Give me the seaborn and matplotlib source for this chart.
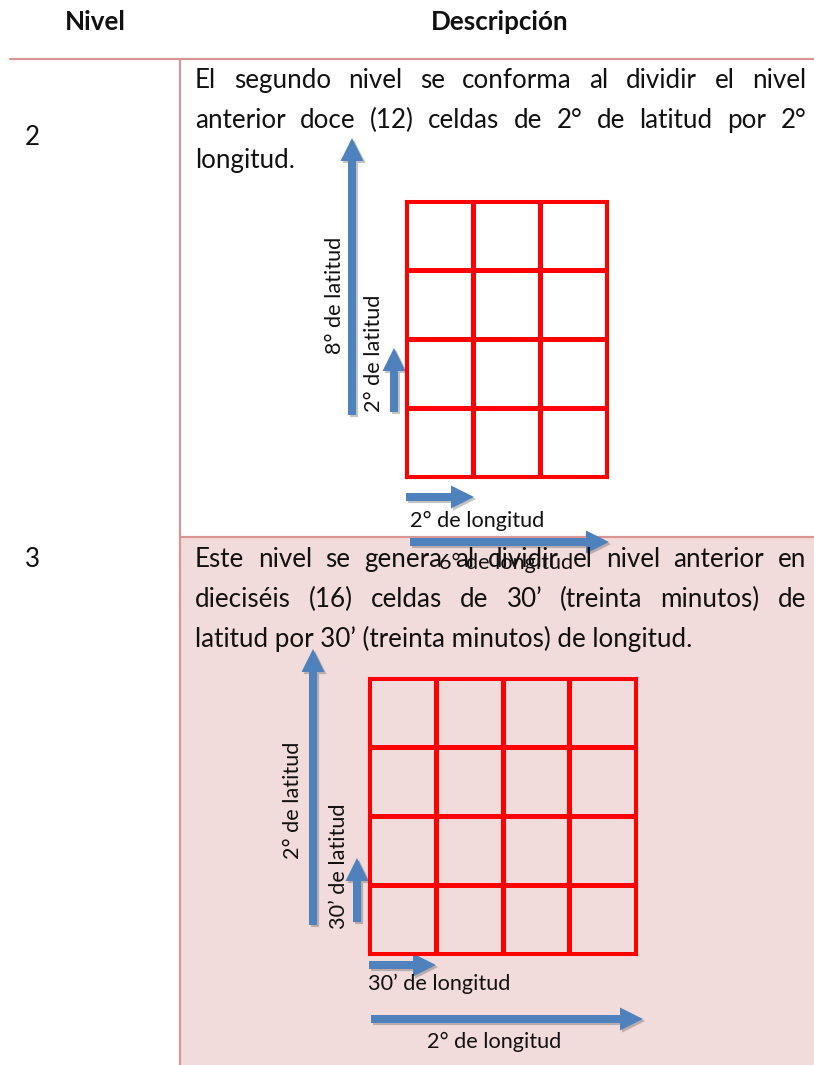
import numpy as np
import matplotlib
matplotlib.use("Agg")
import matplotlib.pyplot as plt
import matplotlib.patheffects as pe
from matplotlib.colors import ListedColormap
from matplotlib.patches import FancyArrow, Rectangle
import seaborn as sns

# ---------------- data ----------------
header_labels = ["Nivel", "Descripción"]
level_numbers = ["2", "3"]
level2_lines = [
    "El segundo nivel se conforma al dividir el nivel",
    "anterior doce (12) celdas de 2° de latitud por 2°",
    "longitud.",
]
level3_lines = [
    "Este nivel se genera al dividir el nivel anterior en",
    "dieciséis (16) celdas de 30’ (treinta minutos) de",
    "latitud por 30’ (treinta minutos) de longitud.",
]
level2_grid = [[0, 0, 0], [0, 0, 0], [0, 0, 0], [0, 0, 0]]   # 4 rows x 3 cols
level3_grid = [[0, 0, 0, 0], [0, 0, 0, 0], [0, 0, 0, 0], [0, 0, 0, 0]]  # 4 x 4
level2_labels = ["8° de latitud", "2° de latitud", "2° de longitud", "6° de longitud"]
level3_labels = ["2° de latitud", "30’ de latitud", "30’ de longitud", "2° de longitud"]

# ---------------- style ----------------
W, H = 814, 1065
sns.set_theme(style="white")
plt.rcParams["font.family"] = ["Lato", "DejaVu Sans"]
BODY = 18.7
LABEL = 15.6
LINE_C = "#d99594"
PINK = "#f2dbdb"
BLUE = "#4f81bd"
RED = "#ff0000"
TXT = "#111111"

fig = plt.figure(figsize=(W / 100, H / 100), dpi=100)
fig.patch.set_facecolor("white")
ax = fig.add_axes([0, 0, 1, 1])
ax.set_xlim(0, W)
ax.set_ylim(H, 0)
ax.axis("off")
renderer = fig.canvas.get_renderer()

# backgrounds and table lines
ax.add_patch(Rectangle((180, 537), W - 180, H - 537, facecolor=PINK, edgecolor="none", zorder=0))
ax.plot([10, W], [59, 59], color=LINE_C, lw=1.6, zorder=1)
ax.plot([180, 180], [59, H], color=LINE_C, lw=1.6, zorder=1)
ax.plot([180, W], [537, 537], color=LINE_C, lw=1.6, zorder=1)

# header
ax.text(95, 30, header_labels[0], fontsize=BODY, fontweight="bold", ha="center", va="baseline", color=TXT)
ax.text(500, 30, header_labels[1], fontsize=BODY, fontweight="bold", ha="center", va="baseline", color=TXT)
ax.text(32, 145, level_numbers[0], fontsize=BODY, ha="center", va="baseline", color=TXT)
ax.text(32, 567, level_numbers[1], fontsize=BODY, ha="center", va="baseline", color=TXT)


def paragraph(lines, x0, x1, y0, dy):
    for i, line in enumerate(lines):
        y = y0 + i * dy
        if i == len(lines) - 1:
            ax.text(x0, y, line, fontsize=BODY, ha="left", va="baseline", zorder=5, color=TXT)
            continue
        words = line.split(" ")
        objs = [ax.text(0, y, w, fontsize=BODY, ha="left", va="baseline", zorder=5, color=TXT)
                for w in words]
        widths = [o.get_window_extent(renderer).width for o in objs]
        gap = (x1 - x0 - sum(widths)) / (len(words) - 1)
        x = x0
        for o, w in zip(objs, widths):
            o.set_x(x)
            x += w + gap


paragraph(level2_lines, 195, 806, 88, 40)
paragraph(level3_lines, 195, 806, 567, 40)


def grid(data, x0, y0, x1, y1, bg):
    gax = fig.add_axes([x0 / W, 1 - y1 / H, (x1 - x0) / W, (y1 - y0) / H])
    sns.heatmap(np.array(data), ax=gax, cbar=False, cmap=ListedColormap([bg]),
                linewidths=2.2, linecolor=RED, xticklabels=False, yticklabels=False)
    for s in gax.spines.values():
        s.set_visible(True)
        s.set_color(RED)
        s.set_linewidth(2.2)
    return gax


grid(level2_grid, 406, 201, 607, 477, "white")
grid(level3_grid, 369, 678, 636, 954, PINK)

shadow = [pe.SimplePatchShadow(offset=(1.5, -1.5), shadow_rgbFace="#555555", alpha=0.35), pe.Normal()]


def arrow(x0, y0, x1, y1):
    a = FancyArrow(x0, y0, x1 - x0, y1 - y0, width=8, head_width=23, head_length=23,
                   length_includes_head=True, facecolor=BLUE, edgecolor="none", zorder=3)
    a.set_path_effects(shadow)
    ax.add_patch(a)


# level 2 diagram
arrow(352, 415, 352, 138)
arrow(394, 412, 394, 348)
arrow(406, 497, 474, 497)
arrow(410, 542, 609, 542)
ax.text(335, 295, level2_labels[0], fontsize=LABEL, rotation=90, ha="center", va="center", zorder=4, color=TXT)
ax.text(374, 353, level2_labels[1], fontsize=LABEL, rotation=90, ha="center", va="center", zorder=4, color=TXT)
ax.text(477, 521, level2_labels[2], fontsize=LABEL, ha="center", va="center", zorder=4, color=TXT)
ax.text(506, 563, level2_labels[3], fontsize=LABEL, ha="center", va="center", zorder=4, color=TXT)

# level 3 diagram
arrow(313, 925, 313, 649)
arrow(357, 922, 357, 858)
arrow(369, 965, 436, 965)
arrow(371, 1019, 643, 1019)
ax.text(293, 800, level3_labels[0], fontsize=LABEL, rotation=90, ha="center", va="center", zorder=4, color=TXT)
ax.text(339, 866, level3_labels[1], fontsize=LABEL, rotation=90, ha="center", va="center", zorder=4, color=TXT)
ax.text(439, 984, level3_labels[2], fontsize=LABEL, ha="center", va="center", zorder=4, color=TXT)
ax.text(494, 1042, level3_labels[3], fontsize=LABEL, ha="center", va="center", zorder=4, color=TXT)

fig.savefig("out.png", dpi=100)
